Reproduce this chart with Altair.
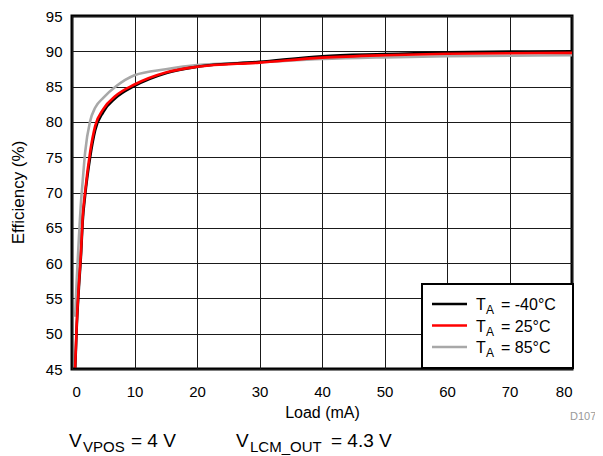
import altair as alt
import pandas as pd

FONT = "Liberation Sans, Arial, Helvetica, sans-serif"

# ---- data ----
load_ma = [0.5, 0.75, 1.1, 1.45, 1.7, 2.1, 2.9, 3.7, 5, 7, 10, 15, 20, 30, 40, 50, 60, 70, 80]
eff_m40 = [44.8, 50.8, 56.5, 61.3, 65.8, 69.6, 75.0, 78.8, 81.4, 83.4, 85.1, 86.9, 87.8, 88.5, 89.3, 89.6, 89.85, 89.95, 90.0]
eff_25 = [45.2, 51.3, 57.0, 61.8, 66.4, 70.1, 75.7, 79.4, 81.8, 83.7, 85.3, 87.0, 87.8, 88.4, 89.1, 89.45, 89.65, 89.72, 89.78]
eff_85 = [52.4, 57.5, 63.5, 68.8, 71.5, 75.7, 80.1, 82.0, 83.4, 85.0, 86.6, 87.45, 88.05, 88.45, 88.9, 89.14, 89.3, 89.38, 89.43]

series_temps = ["-40°C", "25°C", "85°C"]
series_colors = ["#000000", "#ff0000", "#a8a8a8"]
series_values = [eff_m40, eff_25, eff_85]

x_ticks = [0, 10, 20, 30, 40, 50, 60, 70, 80]
y_ticks = [45, 50, 55, 60, 65, 70, 75, 80, 85, 90, 95]

frames = []
for t, vals in zip(series_temps, series_values):
    frames.append(pd.DataFrame({"series": t, "load": load_ma, "eff": vals}))
df = pd.concat(frames, ignore_index=True)

H = 353
x_enc = alt.X("load:Q", scale=alt.Scale(domain=[0, 80], nice=False),
              axis=alt.Axis(values=x_ticks, title="Load (mA)", titleX=250, titleY=48,
                            titleBaseline="alphabetic", labelBaseline="alphabetic",
                            labelPadding=27))
y_enc = alt.Y("eff:Q", scale=alt.Scale(domain=[45, 95], nice=False),
              axis=alt.Axis(values=y_ticks, title="Efficiency (%)", titleX=-49, titleY=176,
                            titleAngle=270, titleAlign="center", titleBaseline="alphabetic",
                            titleFontSize=17, labelPadding=10))

def line_layer(temp, color):
    return alt.Chart(df).transform_filter(alt.datum.series == temp).mark_line(
        color=color, strokeWidth=2.6, interpolate="monotone", clip=True
    ).encode(x=x_enc, y=y_enc, order="load:Q")

# draw order: gray, black, red
lines = [line_layer(series_temps[2], series_colors[2]),
         line_layer(series_temps[0], series_colors[0]),
         line_layer(series_temps[1], series_colors[1])]

dummy = pd.DataFrame({"a": [0]})

def txt(s, x, y, size, color="black", baseline="alphabetic", align="left"):
    return alt.Chart(dummy).mark_text(
        text=s, font=FONT, fontSize=size, color=color, baseline=baseline, align=align
    ).encode(x=alt.value(x), y=alt.value(y))

# plot-relative y offset (plot top now 2px lower than before)
o = -2

# legend box
legend = [alt.Chart(dummy).mark_rect(fill="white", stroke="black", strokeWidth=2).encode(
    x=alt.value(350), x2=alt.value(501), y=alt.value(270 + o), y2=alt.value(354 + o))]
row_y = [290 + o, 311.5 + o, 333 + o]
for i, (t, c) in enumerate(zip(series_temps, series_colors)):
    yy = row_y[i]
    legend.append(alt.Chart(dummy).mark_rule(color=c, strokeWidth=2.6).encode(
        x=alt.value(360), x2=alt.value(395), y=alt.value(yy)))
    legend.append(txt("T", 404, yy + 6, 16))
    legend.append(txt("A", 414, yy + 10, 12))
    legend.append(txt("= " + t, 429, yy + 6, 16))

# bottom annotations
notes = [
    txt("V", -3, 433 + o, 19),
    txt("VPOS", 11, 437.5 + o, 15),
    txt("= 4 V", 59, 433 + o, 19),
    txt("V", 164, 433 + o, 19),
    txt("LCM_OUT", 178, 437.5 + o, 15),
    txt("= 4.3 V", 259, 433 + o, 19),
    txt("D107", 498, 406 + o, 11, color="#999999"),
]

chart = alt.layer(*lines, *legend, *notes).properties(
    width=500, height=H,
    padding={"left": 64, "top": 8, "right": 23, "bottom": 87},
    autosize=alt.AutoSizeParams(type="none"),
).configure_view(
    stroke="black", strokeWidth=3
).configure_axis(
    grid=True, gridColor="#1a1a1a", gridWidth=1, gridOpacity=1,
    domain=False, ticks=False, tickSize=0,
    labelFont=FONT, labelFontSize=15, labelColor="black",
    titleFont=FONT, titleFontSize=16, titleColor="black", titleFontWeight="normal",
)

chart.save("out.html", embed_options={"renderer": "svg", "actions": False})
